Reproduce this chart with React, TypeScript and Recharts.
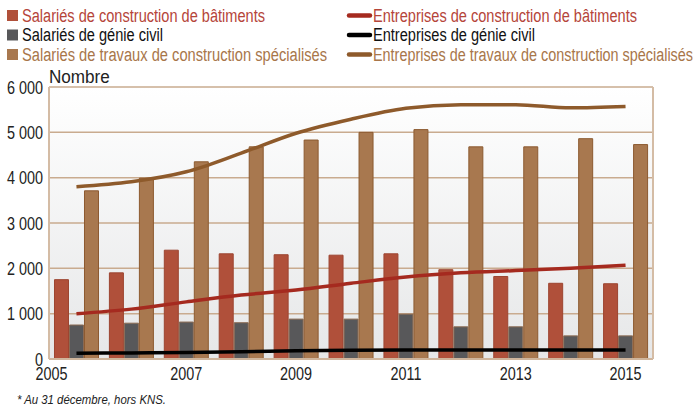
import { ComposedChart, Bar, Line, XAxis, YAxis, CartesianGrid } from "recharts";

const years = ["2005", "2006", "2007", "2008", "2009", "2010", "2011", "2012", "2013", "2014", "2015"];
const salariesBatiments = [1750, 1900, 2400, 2320, 2300, 2290, 2320, 1970, 1820, 1670, 1660];
const salariesGenieCivil = [750, 790, 815, 800, 880, 880, 990, 710, 710, 510, 510];
const salariesTravaux = [3710, 3990, 4350, 4680, 4830, 5000, 5060, 4680, 4680, 4860, 4730];
const entreprisesBatiments = [1000, 1100, 1260, 1410, 1520, 1670, 1810, 1900, 1950, 2000, 2070];
const entreprisesGenieCivil = [125, 135, 145, 160, 180, 195, 200, 200, 200, 200, 200];
const entreprisesTravaux = [3800, 3910, 4130, 4540, 4980, 5290, 5530, 5610, 5610, 5540, 5570];
const yTicks = [0, 1000, 2000, 3000, 4000, 5000, 6000];

// Arial-metric font squeezed horizontally to mimic the condensed original
const FONT = "'Liberation Sans', Arial, sans-serif";
const SQUEEZE = 0.8;

const data = years.map((year, i) => ({
  year,
  sb: salariesBatiments[i],
  sg: salariesGenieCivil[i],
  st: salariesTravaux[i],
  eb: entreprisesBatiments[i],
  eg: entreprisesGenieCivil[i],
  et: entreprisesTravaux[i],
}));

const barLegend = [
  { label: "Salariés de construction de bâtiments", color: "#b0503a", text: "#b5453a", w: 243 },
  { label: "Salariés de génie civil", color: "#58585a", text: "#111", w: 141 },
  { label: "Salariés de travaux de construction spécialisés", color: "#a8784f", text: "#a8764a", w: 305 },
];
const lineLegend = [
  { label: "Entreprises de construction de bâtiments", color: "#a52a1f", text: "#b5453a", w: 264 },
  { label: "Entreprises de génie civil", color: "#000", text: "#111", w: 162 },
  { label: "Entreprises de travaux de construction spécialisés", color: "#8e5a2b", text: "#a8764a", w: 320 },
];

const fmt = (v: number) => (v >= 1000 ? `${Math.floor(v / 1000)} ${String(v % 1000).padStart(3, "0")}` : String(v));

const Narrow = ({ x, y, anchor, size, children, dy, squeeze = SQUEEZE }: any) => (
  <text
    transform={`translate(${x},${y}) scale(${squeeze},1)`}
    x={0}
    y={0}
    dy={dy}
    textAnchor={anchor}
    fontSize={size}
    fill="#222"
    fontFamily={FONT}
  >
    {children}
  </text>
);

const YearTick = ({ x, y, payload }: any) => {
  // first label sits left of its group in the original
  const shift = payload.value === years[0] ? -25 : 0;
  return (
    <Narrow x={x + shift} y={y} dy={21} anchor="middle" size={18}>
      {payload.value}
    </Narrow>
  );
};

const ValueTick = ({ x, y, payload }: any) => (
  <Narrow x={x} y={y} dy={6.5} anchor="end" size={18}>
    {fmt(payload.value)}
  </Narrow>
);

export default function App() {
  return (
    <div style={{ position: "absolute", left: 0, top: 0, width: 698, height: 409, background: "#fff" }}>
      <ComposedChart
        width={698}
        height={409}
        data={data}
        margin={{ top: 87, right: 44, bottom: 25, left: 0 }}
        barCategoryGap="10%"
        barGap={1}
      >
        <defs>
          <linearGradient id="plotBg" x1="0" y1="0" x2="0" y2="1">
            <stop offset="0%" stopColor="#ffffff" />
            <stop offset="100%" stopColor="#e6e7e8" />
          </linearGradient>
        </defs>
        <CartesianGrid vertical={false} stroke="#c9ab8f" strokeWidth={1.5} fill="url(#plotBg)" />
        <XAxis
          dataKey="year"
          interval={1}
          tickLine={false}
          tickSize={0}
          tickMargin={0}
          height={25}
          axisLine={{ stroke: "#cfb59c", strokeWidth: 2 }}
          tick={<YearTick />}
        />
        <YAxis
          domain={[0, 6000]}
          ticks={yTicks}
          width={49}
          tickLine={false}
          tickSize={0}
          tickMargin={6}
          axisLine={{ stroke: "#d4bca5", strokeWidth: 2 }}
          tick={<ValueTick />}
        />
        <YAxis
          yAxisId="right"
          orientation="right"
          width={1}
          tick={false}
          tickLine={false}
          axisLine={{ stroke: "#d4bca5", strokeWidth: 2 }}
        />
        <Bar dataKey="sb" fill="#b0503a" stroke="#9c4430" strokeWidth={1} isAnimationActive={false} />
        <Bar dataKey="sg" fill="#58585a" stroke="#8a6a52" strokeWidth={1} isAnimationActive={false} />
        <Bar dataKey="st" fill="#a8784f" stroke="#8c5a30" strokeWidth={1} isAnimationActive={false} />
        <Line dataKey="eb" type="monotone" stroke="#a52a1f" strokeWidth={3.5} dot={false} isAnimationActive={false} />
        <Line dataKey="eg" type="monotone" stroke="#000" strokeWidth={3.5} dot={false} isAnimationActive={false} />
        <Line dataKey="et" type="monotone" stroke="#8e5a2b" strokeWidth={3.5} dot={false} isAnimationActive={false} />
      </ComposedChart>
      <svg width={698} height={409} style={{ position: "absolute", left: 0, top: 0, pointerEvents: "none" }}>
        {barLegend.map((it, i) => (
          <g key={it.label}>
            <rect x={7} y={10 + i * 19.5} width={11} height={11} fill={it.color} />
            <text x={22} y={21.5 + i * 19.5} fontSize={18} fill={it.text} fontFamily={FONT} textLength={it.w} lengthAdjust="spacingAndGlyphs">
              {it.label}
            </text>
          </g>
        ))}
        {lineLegend.map((it, i) => (
          <g key={it.label}>
            <line x1={349} x2={370} y1={15.5 + i * 19.5} y2={15.5 + i * 19.5} stroke={it.color} strokeWidth={4.5} strokeLinecap="round" />
            <text x={373} y={21.5 + i * 19.5} fontSize={18} fill={it.text} fontFamily={FONT} textLength={it.w} lengthAdjust="spacingAndGlyphs">
              {it.label}
            </text>
          </g>
        ))}
        <Narrow x={49} y={83} anchor="start" size={19} squeeze={0.9}>
          Nombre
        </Narrow>
        <text x={17} y={404} fontSize={13} fontStyle="italic" fill="#222" fontFamily={FONT} textLength={149} lengthAdjust="spacingAndGlyphs">
          * Au 31 décembre, hors KNS.
        </text>
      </svg>
    </div>
  );
}
